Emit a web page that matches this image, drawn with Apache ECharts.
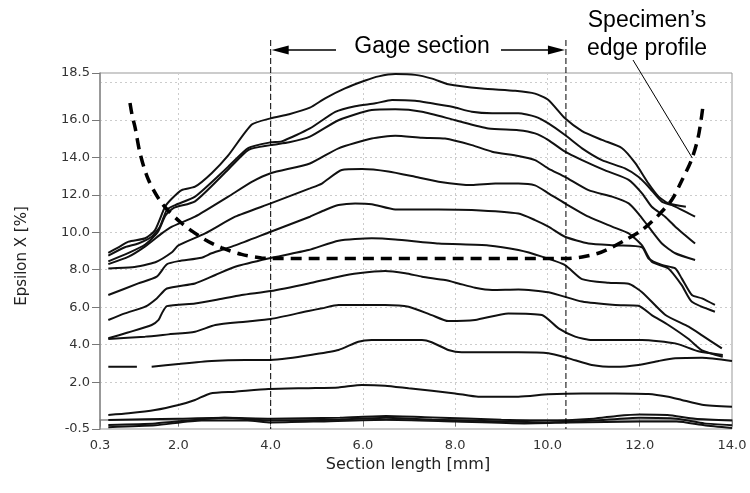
<!DOCTYPE html>
<html><head><meta charset="utf-8">
<script src="https://cdn.jsdelivr.net/npm/echarts@6/dist/echarts.min.js"></script>
<style>html,body{margin:0;padding:0;background:#fff}#c{width:750px;height:493px}</style>
</head><body><div id="c"></div>
<script>
const xTickLabels = [0.3, 2, 4, 6, 8, 10, 12, 14];
const yTickLabels = [-0.5, 2, 4, 6, 8, 10, 12, 14, 16, 18.5];
const xGridLines = [2, 4, 6, 8, 10, 12];
const yGridLines = [2, 4, 6, 8, 10, 12, 14, 16, 18];
const gageBounds = [4.0, 10.4];
const leaderTarget = [13.14, 13.96];

const curveA = [[0.48,8.9],[0.7,9.2],[0.92,9.5],[1.28,9.68],[1.49,10.1],[1.71,11.36],[1.86,11.8],[2.07,12.25],[2.36,12.43],[2.72,13.15],[3.08,14.1],[3.59,15.75],[4.0,16.08],[4.4,16.3],[4.85,16.65],[5.18,17.15],[5.61,17.68],[6.05,18.1],[6.34,18.32],[6.7,18.44],[7.13,18.4],[7.5,18.2],[7.85,17.9],[8.58,17.67],[9.3,17.55],[9.73,17.4],[10.02,17.06],[10.38,16.08],[10.75,15.4],[11.18,14.93],[11.61,14.5],[11.9,13.7],[12.19,12.6],[12.41,11.9],[12.62,11.55],[13.0,11.36]];
const curveB = [[0.48,8.75],[0.84,9.2],[1.13,9.4],[1.42,9.76],[1.6,10.3],[1.75,11.2],[1.93,11.45],[2.36,11.9],[3.08,13.5],[3.52,14.5],[4.0,14.8],[4.24,14.85],[4.85,15.54],[5.4,16.43],[5.83,16.73],[6.27,16.88],[6.63,17.06],[7.13,17.02],[7.49,16.88],[7.93,16.7],[8.36,16.43],[8.8,16.35],[9.37,16.35],[9.73,16.17],[10.02,15.81],[10.38,15.19],[10.75,14.48],[11.18,13.85],[11.68,13.41],[11.97,12.96],[12.19,12.43],[12.48,11.63],[12.7,11.45],[13.2,10.83]];
const curveC = [[0.48,8.45],[0.92,8.9],[1.28,9.35],[1.55,10.0],[1.72,10.9],[1.9,11.3],[2.36,11.65],[3.08,13.35],[3.52,14.4],[4.0,14.65],[4.4,14.8],[4.85,15.1],[5.47,15.98],[6.19,16.52],[6.7,16.56],[7.28,16.43],[8.0,15.98],[8.72,15.54],[9.37,15.45],[9.73,15.28],[10.02,14.92],[10.38,14.3],[10.75,13.85],[11.25,13.3],[11.76,12.8],[12.05,12.08],[12.26,11.36],[12.55,10.83],[12.77,10.3],[13.2,9.4]];
const curveD = [[0.48,8.3],[0.92,8.7],[1.28,9.25],[1.64,9.94],[1.86,10.3],[2.36,10.83],[3.08,11.9],[3.6,12.7],[4.0,13.15],[4.85,13.67],[5.47,14.48],[6.19,15.0],[6.7,15.15],[7.28,15.04],[7.78,15.0],[8.36,14.65],[8.8,14.3],[9.37,14.07],[9.73,13.85],[10.02,13.4],[10.38,12.96],[10.89,12.25],[11.4,11.9],[11.76,11.54],[11.97,11.0],[12.19,10.3],[12.48,9.4],[12.77,8.88],[13.2,8.52]];
const curveE = [[0.48,8.07],[1.0,8.13],[1.5,8.4],[1.86,8.93],[2.0,9.3],[2.58,9.94],[3.23,10.83],[4.0,11.54],[4.85,12.34],[5.11,12.6],[5.54,13.32],[5.98,13.37],[6.55,13.24],[7.13,12.96],[7.64,12.7],[8.36,12.52],[8.87,12.6],[9.37,12.6],[9.73,12.5],[10.02,12.08],[10.38,11.54],[10.89,10.83],[11.4,10.3],[11.76,9.94],[12.05,9.3],[12.26,8.43],[12.62,8.07],[12.91,7.18],[13.13,6.29],[13.63,5.76]];
const curveF = [[0.48,6.65],[1.13,7.27],[1.53,7.63],[1.75,8.29],[2.0,8.46],[2.5,8.64],[2.72,8.88],[3.23,9.3],[4.0,10.03],[4.85,10.83],[5.18,11.19],[5.47,11.45],[5.83,11.54],[6.19,11.5],[6.7,11.22],[7.64,11.22],[8.36,11.19],[9.37,11.0],[9.73,10.65],[10.02,10.3],[10.38,9.76],[10.89,9.4],[11.5,9.3],[12.05,9.2],[12.19,8.6],[12.48,8.25],[12.77,8.07],[12.91,7.54],[13.13,6.65],[13.35,6.47],[13.63,6.12]];
const curveG = [[0.48,5.32],[0.84,5.67],[1.28,6.03],[1.53,6.47],[1.75,7.0],[2.36,7.27],[2.8,7.72],[3.23,8.16],[3.95,8.6],[4.82,9.05],[5.47,9.55],[6.19,9.68],[6.7,9.62],[7.64,9.4],[8.72,9.3],[9.37,9.05],[9.88,8.7],[10.38,8.25],[10.75,7.5],[11.32,7.3],[11.76,7.25],[12.05,6.8],[12.55,5.6],[13.06,4.96],[13.35,4.5],[13.78,3.8]];
const curveH = [[0.48,4.34],[0.92,4.66],[1.42,5.05],[1.57,5.32],[1.64,5.67],[1.75,6.06],[2.36,6.2],[2.8,6.38],[3.37,6.65],[4.0,6.86],[4.82,7.27],[5.47,7.63],[5.9,7.81],[6.48,7.93],[6.92,7.81],[7.28,7.63],[7.78,7.45],[8.07,7.27],[8.43,7.04],[8.8,6.92],[9.37,6.95],[10.02,6.8],[10.75,6.3],[11.47,6.12],[11.97,6.08],[12.26,5.58],[12.62,5.05],[13.06,4.3],[13.35,3.7],[13.8,3.36]];
const curveI = [[0.48,4.3],[1.28,4.43],[1.78,4.55],[2.36,4.69],[2.8,5.05],[3.45,5.23],[4.0,5.37],[4.82,5.8],[5.11,5.94],[5.47,6.12],[6.48,6.12],[6.99,6.03],[7.49,5.58],[7.85,5.26],[8.43,5.32],[9.15,5.67],[9.88,5.58],[10.24,4.87],[10.6,4.43],[10.96,4.25],[12.05,4.25],[12.77,4.07],[13.27,3.65],[13.8,3.45]];
const curveJ = [[0.48,2.82],[1.1,2.82],[1.26,null],[1.42,2.82],[2.0,2.97],[2.72,3.13],[3.45,3.18],[4.0,3.18],[4.38,3.27],[4.86,3.45],[5.47,3.72],[5.9,4.16],[6.19,4.25],[7.28,4.25],[7.49,4.13],[7.85,3.72],[8.14,3.59],[9.37,3.59],[10.02,3.54],[10.46,3.27],[10.96,2.92],[11.47,2.82],[11.97,2.92],[12.41,3.13],[12.77,3.27],[13.35,3.3],[14.0,3.13]];
const curveK = [[0.48,0.25],[0.92,0.34],[1.49,0.51],[2.0,0.78],[2.36,1.05],[2.69,1.4],[3.23,1.49],[3.95,1.63],[4.82,1.68],[5.47,1.72],[5.98,1.85],[6.48,1.81],[6.99,1.67],[8.0,1.4],[8.5,1.22],[9.37,1.22],[10.02,1.35],[10.75,1.4],[11.47,1.4],[12.19,1.37],[12.62,1.22],[12.91,1.05],[13.35,0.8],[14.0,0.69]];
const curveL1 = [[0.48,-0.02],[2.0,0.05],[3.0,0.1],[4.0,0.05],[5.5,0.1],[6.5,0.2],[7.5,0.12],[9.0,0.0],[10.0,-0.05],[11.0,0.05],[11.5,0.2],[12.0,0.28],[12.6,0.25],[13.2,0.05],[14.0,-0.05]];
const curveL2 = [[0.48,-0.28],[1.5,-0.2],[2.4,0.0],[3.0,0.1],[4.0,-0.05],[5.5,0.0],[6.5,0.1],[7.5,0.0],[9.0,-0.1],[10.0,-0.15],[11.0,-0.05],[12.0,0.1],[12.8,0.05],[13.4,-0.2],[14.0,-0.3]];
const curveL3 = [[0.48,-0.4],[1.5,-0.3],[2.5,-0.05],[3.5,-0.05],[4.0,-0.15],[5.0,-0.1],[6.5,0.0],[8.0,-0.1],[9.5,-0.2],[10.5,-0.15],[12.0,-0.1],[12.8,-0.1],[13.4,-0.3],[14.0,-0.45]];
const edgeProfile = [[0.95,16.9],[1.0,16.2],[1.06,15.6],[1.17,14.2],[1.35,12.8],[1.64,11.55],[2.07,10.48],[2.58,9.6],[2.94,9.17],[3.37,8.82],[3.8,8.63],[4.0,8.6],[7.2,8.6],[10.4,8.6],[10.75,8.68],[11.1,8.88],[11.4,9.2],[11.7,9.6],[12.05,10.12],[12.4,10.9],[12.7,11.75],[12.92,12.8],[13.12,13.85],[13.26,15.0],[13.33,16.0],[13.38,16.9]];

const curves = [curveA, curveB, curveC, curveD, curveE, curveF, curveG, curveH, curveI, curveJ, curveK, curveL1, curveL2, curveL3];

const chart = echarts.init(document.getElementById('c'), null, {renderer: 'canvas'});
const tickFont = {color: '#333', fontFamily: 'DejaVu Sans', fontSize: 13};
const series = curves.map(c => ({
  type: 'line', data: c, showSymbol: false, smooth: 0.2, connectNulls: false,
  lineStyle: {color: '#111', width: 2}, silent: true, z: 3
}));
series.push({
  type: 'line', data: edgeProfile, showSymbol: false, smooth: 0.3,
  lineStyle: {color: '#000', width: 3.5, type: [11, 7]}, silent: true, z: 4
});

chart.setOption({
  animation: false,
  backgroundColor: '#fff',
  grid: {left: 100, right: 18, top: 73, bottom: 64, show: true, borderColor: '#999', borderWidth: 1, containLabel: false},
  xAxis: [{
    type: 'value', min: 0.3, max: 14,
    axisLine: {lineStyle: {color: '#888', width: 1.5}},
    axisTick: {customValues: xTickLabels, length: 7, lineStyle: {color: '#777'}},
    axisLabel: Object.assign({customValues: xTickLabels, formatter: v => v.toFixed(1), margin: 10}, tickFont),
    splitLine: {show: false},
    name: 'Section length [mm]', nameLocation: 'middle', nameGap: 26,
    nameTextStyle: {color: '#222', fontFamily: 'DejaVu Sans', fontSize: 16, padding: [0, 16, 0, 0]}
  }, {
    type: 'value', min: 0.3, max: 14, position: 'bottom',
    axisLine: {show: false}, axisLabel: {show: false},
    axisTick: {show: false, customValues: xGridLines},
    splitLine: {show: true, lineStyle: {color: '#ccc', type: [2, 3], width: 1}}
  }],
  yAxis: [{
    type: 'value', min: -0.5, max: 18.5,
    axisLine: {show: true, lineStyle: {color: '#888', width: 1.5}},
    axisTick: {show: true, customValues: yTickLabels, length: 8, lineStyle: {color: '#777'}},
    axisLabel: Object.assign({customValues: yTickLabels, formatter: v => v.toFixed(1), margin: 10}, tickFont),
    splitLine: {show: false},
    name: 'Epsilon X [%]', nameLocation: 'middle', nameGap: 70,
    nameTextStyle: {color: '#222', fontFamily: 'DejaVu Sans', fontSize: 15, padding: [0, 10, 0, 0]}
  }, {
    type: 'value', min: -0.5, max: 18.5, position: 'left',
    axisLine: {show: false}, axisLabel: {show: false},
    axisTick: {show: false, customValues: yGridLines},
    splitLine: {show: true, lineStyle: {color: '#ccc', type: [2, 3], width: 1}}
  }],
  series: series
});

const g0 = chart.convertToPixel({gridIndex: 0}, [gageBounds[0], -0.5]);
const g1 = chart.convertToPixel({gridIndex: 0}, [gageBounds[1], -0.5]);
const lt = chart.convertToPixel({gridIndex: 0}, leaderTarget);
const arrowY = 50, topY = 40;
const annFont = '23px "Liberation Sans", Arial, sans-serif';
chart.setOption({
  graphic: [
    {type: 'line', silent: true, z: 10, shape: {x1: g0[0], y1: topY, x2: g0[0], y2: g0[1]}, style: {stroke: '#000', lineWidth: 1, lineDash: [6, 3]}},
    {type: 'line', silent: true, z: 10, shape: {x1: g1[0], y1: topY, x2: g1[0], y2: g1[1]}, style: {stroke: '#000', lineWidth: 1, lineDash: [6, 3]}},
    {type: 'line', silent: true, z: 10, shape: {x1: g0[0] + 10, y1: arrowY, x2: 336, y2: arrowY}, style: {stroke: '#000', lineWidth: 1.5}},
    {type: 'polygon', silent: true, z: 10, shape: {points: [[g0[0] + 1, arrowY], [g0[0] + 18, arrowY - 4.5], [g0[0] + 18, arrowY + 4.5]]}, style: {fill: '#000'}},
    {type: 'line', silent: true, z: 10, shape: {x1: 501, y1: arrowY, x2: g1[0] - 10, y2: arrowY}, style: {stroke: '#000', lineWidth: 1.5}},
    {type: 'polygon', silent: true, z: 10, shape: {points: [[g1[0] - 1, arrowY], [g1[0] - 18, arrowY - 4.5], [g1[0] - 18, arrowY + 4.5]]}, style: {fill: '#000'}},
    {type: 'text', silent: true, z: 10, style: {text: 'Gage section', x: 422, y: 47, font: annFont, fill: '#000', textAlign: 'center', textVerticalAlign: 'middle'}},
    {type: 'text', silent: true, z: 10, style: {text: 'Specimen\u2019s', x: 647, y: 21, font: annFont, fill: '#000', textAlign: 'center', textVerticalAlign: 'middle'}},
    {type: 'text', silent: true, z: 10, style: {text: 'edge profile', x: 647, y: 49, font: annFont, fill: '#000', textAlign: 'center', textVerticalAlign: 'middle'}},
    {type: 'line', silent: true, z: 10, shape: {x1: 633, y1: 60, x2: lt[0], y2: lt[1]}, style: {stroke: '#000', lineWidth: 1}}
  ]
});
</script></body></html>
